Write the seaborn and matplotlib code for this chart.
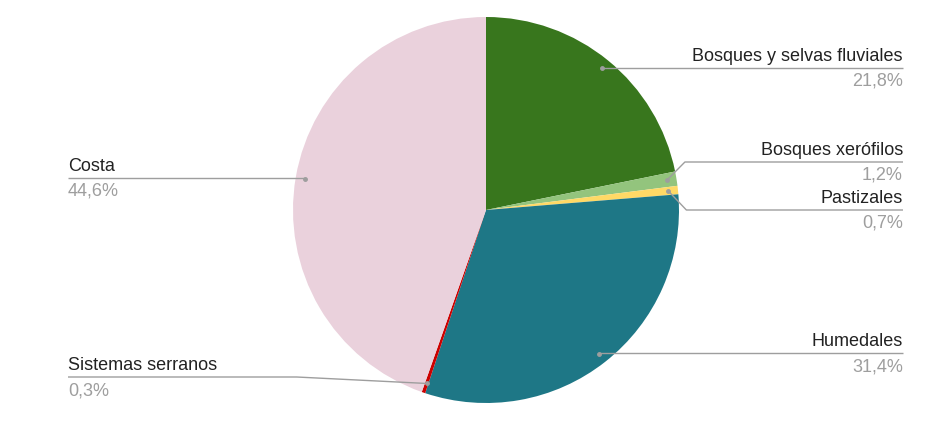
import numpy as np
import matplotlib
matplotlib.use("Agg")
import matplotlib.pyplot as plt
import seaborn as sns

# data
categories = ["Bosques y selvas fluviales", "Bosques xerófilos", "Pastizales",
              "Humedales", "Sistemas serranos", "Costa"]
shares = [21.8, 1.2, 0.7, 31.4, 0.3, 44.6]
colors = ["#38761d", "#93c47d", "#ffd966", "#1e7786", "#cc0000", "#ead1dc"]

# label layout (pixel rows of the leader lines, side of chart)
label_rows = [68, 162, 210, 353, 377, 178]
label_sides = ["right", "right", "right", "right", "left", "left"]

sns.set_style("white")
plt.rcParams["font.family"] = ["Liberation Sans", "DejaVu Sans"]

W, H = 928, 422
fig = plt.figure(figsize=(W / 100, H / 100), dpi=100)
ax = fig.add_axes([0, 0, 1, 1])

cx, cy, r = 486, H - 210, 193
ax.pie(shares, colors=colors, startangle=90, counterclock=False,
       center=(cx, cy), radius=r, frame=True,
       wedgeprops=dict(linewidth=0))
ax.set_xlim(0, W)
ax.set_ylim(0, H)
ax.set_aspect("equal")
ax.axis("off")

line_col = "#9e9e9e"
txt_col = "#222222"
pct_col = "#9e9e9e"
fs = 13

cum = 0.0
total = sum(shares)
for name, val, row, side in zip(categories, shares, label_rows, label_sides):
    mid = (cum + val / 2) / total * 360.0
    cum += val
    ang = np.deg2rad(90 - mid)
    ax_x = cx + 0.95 * r * np.cos(ang)
    ax_y = cy + 0.95 * r * np.sin(ang)
    ly = H - row
    if side == "right":
        x_end = 903
        if abs(ly - ax_y) > 3:
            knee_x = ax_x + 18
            xs = [ax_x, knee_x, x_end]
            ys = [ax_y, ly, ly]
        else:
            xs = [ax_x, x_end]
            ys = [ly, ly]
        ha, tx = "right", x_end
    else:
        x_end = 68
        if abs(ly - ax_y) > 3:
            xs = [ax_x, ax_x - 130, x_end]
            ys = [ax_y, ly, ly]
        else:
            xs = [ax_x, x_end]
            ys = [ly, ly]
        ha, tx = "left", x_end
    ax.plot(xs, ys, color=line_col, lw=1, solid_capstyle="butt", zorder=3)
    ax.plot([ax_x], [ax_y], "o", color=line_col, ms=2.5, zorder=4)
    ax.text(tx, ly + 3, name, ha=ha, va="bottom", fontsize=fs, color=txt_col)
    pct = f"{val:.1f}".replace(".", ",") + "%"
    ax.text(tx, ly - 5, pct, ha=ha, va="top", fontsize=fs, color=pct_col)

fig.savefig("out.png", dpi=100, facecolor="white")
